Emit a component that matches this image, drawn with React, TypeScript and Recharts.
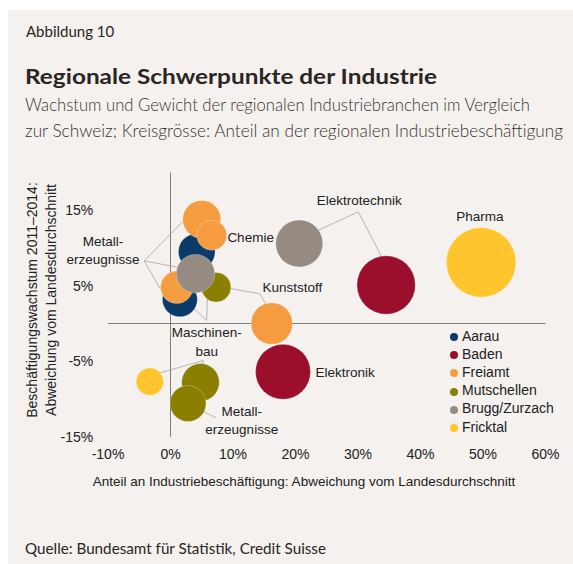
import React from 'react';
import {
  ScatterChart,
  Scatter,
  XAxis,
  YAxis,
  ZAxis,
  ReferenceLine,
  ReferenceDot,
  Legend,
} from 'recharts';

// Regionen (Reihenfolge = Legende)
const regions = ['Aarau', 'Baden', 'Freiamt', 'Mutschellen', 'Brugg/Zurzach', 'Fricktal'];
const regionColors = ['#0b3b68', '#9b0f2d', '#f59c40', '#8a7f00', '#958b82', '#fec52e'];

// x: Anteil an Industriebeschäftigung (Abw. vom Landesdurchschnitt, %)
// y: Beschäftigungswachstum 2011–2014 (Abw. vom Landesdurchschnitt, %)
// z: Anteil an der regionalen Industriebeschäftigung (%)
const aarau = [
  { branche: 'Metallerzeugnisse', x: 4.2, y: 9.5, z: 11.1 },
  { branche: 'Maschinenbau', x: 1.5, y: 3.2, z: 10.1 },
];
const baden = [
  { branche: 'Elektrotechnik', x: 34.5, y: 5.1, z: 28.2 },
  { branche: 'Elektronik', x: 18.0, y: -6.4, z: 25.0 },
];
const freiamt = [
  { branche: 'Metallerzeugnisse', x: 5.0, y: 13.8, z: 11.9 },
  { branche: 'Chemie', x: 6.6, y: 11.7, z: 7.4 },
  { branche: 'Maschinenbau', x: 1.0, y: 4.8, z: 8.7 },
  { branche: 'Kunststoff', x: 16.2, y: 0.0, z: 14.2 },
];
const mutschellen = [
  { branche: 'Kunststoff', x: 7.3, y: 4.8, z: 7.2 },
  { branche: 'Maschinenbau', x: 4.8, y: -7.8, z: 11.7 },
  { branche: 'Metallerzeugnisse', x: 2.8, y: -10.6, z: 10.7 },
];
const brugg = [
  { branche: 'Maschinenbau', x: 4.0, y: 6.6, z: 12.2 },
  { branche: 'Elektrotechnik', x: 20.6, y: 10.6, z: 18.3 },
];
const fricktal = [
  { branche: 'Pharma', x: 49.7, y: 8.1, z: 40.0 },
  { branche: 'Maschinenbau', x: -3.3, y: -7.7, z: 6.2 },
];
const regionData = [aarau, baden, freiamt, mutschellen, brugg, fricktal];

const xTicks = [-10, 0, 10, 20, 30, 40, 50, 60];
const yTicks = [-15, -5, 5, 15];

// Branchen-Beschriftungen (in Achsenwerten)
const branchLabels = [
  { lines: ['Metall-', 'erzeugnisse'], x: -10.8, y: 9.7, anchor: 'middle' },
  { lines: ['Chemie'], x: 9.1, y: 11.5, anchor: 'start' },
  { lines: ['Kunststoff'], x: 19.5, y: 4.8, anchor: 'middle' },
  { lines: ['Elektrotechnik'], x: 30.2, y: 16.4, anchor: 'middle' },
  { lines: ['Pharma'], x: 49.5, y: 14.2, anchor: 'middle' },
  { lines: ['Elektronik'], x: 23.2, y: -6.5, anchor: 'start' },
  { lines: ['Maschinen-', 'bau'], x: 5.8, y: -2.4, anchor: 'middle' },
  { lines: ['Metall-', 'erzeugnisse'], x: 11.4, y: -12.8, anchor: 'middle' },
];

// Verbindungslinien Beschriftung -> Kreis
const connectors = [
  [[-4.2, 8.3], [3.0, 14.4]],
  [[-4.2, 8.3], [2.05, 7.3]],
  [[-4.2, 8.3], [-1.7, 4.65]],
  [[5.8, 0.4], [2.05, 3.3]],
  [[5.8, 0.4], [6.0, 7.0]],
  [[5.25, -4.9], [-2.3, -6.7]],
  [[5.25, -4.9], [4.8, -6.5]],
  [[4.45, -11.3], [7.3, -12.5]],
  [[8.45, 4.8], [14.3, 3.95]],
  [[14.3, 3.95], [15.65, 1.95]],
  [[22.3, 11.85], [30.05, 14.8]],
  [[30.05, 14.8], [34.3, 8.0]],
];

const chartFont = '"Liberation Sans", Arial, sans-serif';
const headFont = 'Lato, "Open Sans", sans-serif';

function labelShape(lines: string[], anchor: string) {
  return (p: any) => (
    <text x={p.cx} y={p.cy} textAnchor={anchor} fontSize={13.5} fill="#222" fontFamily={chartFont}>
      {lines.map((l, i) => (
        <tspan key={i} x={p.cx} y={p.cy + (i - (lines.length - 1) / 2) * 18.5 + 4.8}>
          {l}
        </tspan>
      ))}
    </text>
  );
}

export default function App() {
  return (
    <div
      style={{
        position: 'absolute',
        left: 8,
        top: 10,
        width: 565,
        height: 554,
        background: '#f4f1ee',
        fontFamily: chartFont,
      }}
    >
      <svg width={565} height={554} style={{ position: 'absolute', left: 0, top: 0 }}>
        <text x={18} y={27} fontFamily={headFont} fontSize={15} fill="#2b2523">
          Abbildung 10
        </text>
        <text x={17} y={74} fontFamily={headFont} fontWeight={700} fontSize={21.5} fill="#2b2523"
          textLength={412} lengthAdjust="spacingAndGlyphs">
          Regionale Schwerpunkte der Industrie
        </text>
        <text x={17} y={101} fontFamily={headFont} fontWeight={300} fontSize={17.5} fill="#3a3432"
          textLength={505} lengthAdjust="spacingAndGlyphs">
          Wachstum und Gewicht der regionalen Industriebranchen im Vergleich
        </text>
        <text x={17} y={127} fontFamily={headFont} fontWeight={300} fontSize={17.5} fill="#3a3432"
          textLength={538} lengthAdjust="spacingAndGlyphs">
          zur Schweiz; Kreisgrösse: Anteil an der regionalen Industriebeschäftigung
        </text>
        <text x={296} y={476} textAnchor="middle" fontSize={13.5} fill="#222">
          Anteil an Industriebeschäftigung: Abweichung vom Landesdurchschnitt
        </text>
        <g transform="translate(28.7 290) rotate(-90)">
          <text x={0} y={0} textAnchor="middle" fontSize={14} fill="#222">
            Beschäftigungswachstum 2011–2014:
          </text>
        </g>
        <g transform="translate(47.7 290) rotate(-90)">
          <text x={0} y={0} textAnchor="middle" fontSize={14} fill="#222">
            Abweichung vom Landesdurchschnitt
          </text>
        </g>
        <text x={17} y={544} fontFamily={headFont} fontSize={15} fill="#2b2523"
          textLength={301} lengthAdjust="spacingAndGlyphs">
          Quelle: Bundesamt für Statistik, Credit Suisse
        </text>
      </svg>

      <div style={{ position: 'absolute', left: 0, top: 0 }}>
        <ScatterChart
          width={565}
          height={554}
          margin={{ top: 162.6, right: 27.5, bottom: 97.3, left: 40 }}
        >
          <XAxis
            type="number"
            dataKey="x"
            domain={[-10, 60]}
            ticks={xTicks}
            interval={0}
            height={30}
            axisLine={false}
            tickLine={false}
            tickSize={0}
            tickMargin={12.3}
            tickFormatter={(v) => `${v}%`}
            tick={{ fill: '#222', fontSize: 14 }}
          />
          <YAxis
            type="number"
            dataKey="y"
            domain={[-15, 20]}
            ticks={yTicks}
            interval={0}
            width={60}
            axisLine={false}
            tickLine={false}
            tickSize={0}
            tickMargin={14.7}
            tickFormatter={(v) => `${v}%`}
            tick={{ fill: '#222', fontSize: 14 }}
          />
          <ZAxis type="number" dataKey="z" domain={[0, 40]} range={[0, 3805]} />

          <ReferenceLine x={0} stroke="#7d7d7d" strokeWidth={1} />
          <ReferenceLine y={0} stroke="#7d7d7d" strokeWidth={1} />

          {regions.map((name, i) => (
            <Scatter
              key={name}
              name={name}
              data={regionData[i]}
              fill={regionColors[i]}
              stroke="#ffffff"
              strokeOpacity={0.4}
              strokeWidth={0.7}
              isAnimationActive={false}
            />
          ))}

          {connectors.map((seg, i) => (
            <ReferenceLine
              key={`c${i}`}
              segment={[
                { x: seg[0][0], y: seg[0][1] },
                { x: seg[1][0], y: seg[1][1] },
              ]}
              stroke="#a8a5a2"
              strokeWidth={0.8}
              ifOverflow="visible"
            />
          ))}

          {branchLabels.map((l, i) => (
            <ReferenceDot
              key={`l${i}`}
              x={l.x}
              y={l.y}
              r={0}
              ifOverflow="visible"
              shape={labelShape(l.lines, l.anchor)}
            />
          ))}

          <Legend
            layout="vertical"
            align="center"
            verticalAlign="middle"
            iconType="circle"
            iconSize={8}
            itemSorter={(item: any) => regions.indexOf(item.value)}
            wrapperStyle={{ left: 442, top: 316.6, width: 130, lineHeight: '18.2px', fontSize: 14 }}
            formatter={(v) => <span style={{ color: '#222' }}>{v}</span>}
          />
        </ScatterChart>
      </div>
    </div>
  );
}
